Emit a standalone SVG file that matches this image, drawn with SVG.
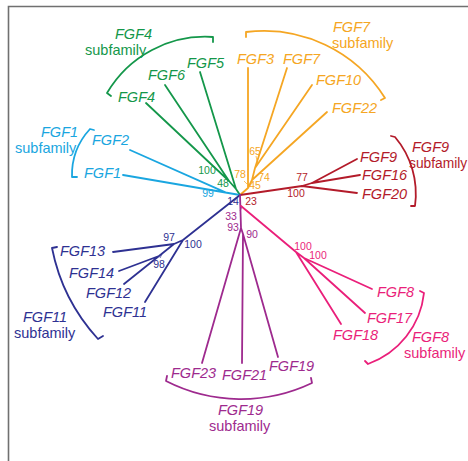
<svg xmlns="http://www.w3.org/2000/svg" width="468" height="461" viewBox="0 0 468 461">
<style>
.g{font-family:"Liberation Sans",Arial,sans-serif;font-style:italic;font-size:14.5px}
.s{font-family:"Liberation Sans",Arial,sans-serif;font-size:14.5px}
.b{font-family:"Liberation Sans",Arial,sans-serif;font-size:10.5px;text-anchor:middle}
.ln{fill:none;stroke-width:1.8;stroke-linecap:round;stroke-linejoin:round}
.tk{fill:none;stroke-width:0.7}
.green{fill:#14974a}.lgreen{stroke:#14974a}
.orange{fill:#f5a623}.lorange{stroke:#f5a623}
.red{fill:#b31b2a}.lred{stroke:#b31b2a}
.blue{fill:#1aa6e0}.lblue{stroke:#1aa6e0}
.navy{fill:#2e3192}.lnavy{stroke:#2e3192}
.purple{fill:#9e2a8e}.lpurple{stroke:#9e2a8e}
.mag{fill:#ea1f7a}.lmag{stroke:#ea1f7a}
</style>
<rect width="468" height="461" fill="#ffffff"/>
<path d="M8.5,461 V6.5 H468" fill="none" stroke="#707070" stroke-width="1.6"/>

<g id="connectors">
  <path class="ln lgreen" d="M146,103 L229,181 M165,85 L229,181 L236,189 M200,72 L236,189 L240,195"/>
  <path class="ln lorange" d="M248,68 V188 M287,68 L255,168 M312,85 L255,168 L252,180 M327,112 L252,180 L248,188 L240,195"/>
  <path class="ln lred" d="M240,195 L302,186 L357,193 M302,186 L312,183 L357,159 M312,183 L360,175"/>
  <path class="ln lblue" d="M123,175 L240,195 M130,150 L226,192.6"/>
  <path class="ln lnavy" d="M240,195 L183,240 L145,302 M183,240 L174,244 L113,252 M174,244 L159,256 L119,271 M159,256 L124,284"/>
  <path class="ln lpurple" d="M240,195 L241,228 L202,363 M241,228 L243,234 L242,363 M243,234 L278,357"/>
  <path class="ln lmag" d="M241,206 L296,252 L341,324 M296,252 L304,258 L372,289 M304,258 L365,313"/>
  <path class="tk lorange" d="M256,156 L257,161 M244,181 L247,184"/>
  <path class="tk lpurple" d="M240,211 L242,207"/>
  <path class="tk lnavy" d="M160,258 L162,254"/>
</g>

<g id="brackets">
  <path class="ln lgreen" d="M111,96 L107,93 A114,114 0 0 1 213,37 L213,42"/>
  <path class="ln lorange" d="M246,37 L246,32 A143,143 0 0 1 385,98 L381,100"/>
  <path class="ln lred" d="M391,136 L395,137 A88,88 0 0 1 415,206 L411,206"/>
  <path class="ln lmag" d="M420,291 L424,293 A85,85 0 0 1 368,364 L365,361"/>
  <path class="ln lpurple" d="M311,378 L312,383 A165,165 0 0 1 166,381 L167,376"/>
  <path class="ln lnavy" d="M103,336 L98,339 A189,189 0 0 1 52,248 L57,247"/>
  <path class="ln lblue" d="M77,177 L72,177 A68,68 0 0 1 90,129 L94,130"/>
</g>

<g id="fgf4-subfamily" class="green">
  <text class="g" x="115" y="39">FGF4</text>
  <text class="s" x="85" y="55">subfamily</text>
  <text class="g" x="187" y="68">FGF5</text>
  <text class="g" x="148" y="80">FGF6</text>
  <text class="g" x="118" y="102">FGF4</text>
  <text class="b" x="207" y="174">100</text>
  <text class="b" x="223" y="187">48</text>
</g>

<g id="fgf7-subfamily" class="orange">
  <text class="g" x="333" y="32">FGF7</text>
  <text class="s" x="332" y="48">subfamily</text>
  <text class="g" x="237" y="64">FGF3</text>
  <text class="g" x="283" y="64">FGF7</text>
  <text class="g" x="316" y="85">FGF10</text>
  <text class="g" x="332" y="113">FGF22</text>
  <text class="b" x="255" y="155">65</text>
  <text class="b" x="240" y="178">78</text>
  <text class="b" x="264" y="181">74</text>
  <text class="b" x="255" y="189">45</text>
</g>

<g id="fgf9-subfamily" class="red">
  <text class="g" x="412" y="152">FGF9</text>
  <text class="s" x="409" y="168" style="font-size:13.8px">subfamily</text>
  <text class="g" x="360" y="162">FGF9</text>
  <text class="g" x="362" y="180">FGF16</text>
  <text class="g" x="362" y="199">FGF20</text>
  <text class="b" x="302" y="181">77</text>
  <text class="b" x="296" y="197">100</text>
  <text class="b" x="251" y="205">23</text>
</g>

<g id="fgf1-subfamily" class="blue">
  <text class="g" x="41" y="137">FGF1</text>
  <text class="s" x="15" y="153">subfamily</text>
  <text class="g" x="92" y="145">FGF2</text>
  <text class="g" x="84" y="178">FGF1</text>
  <text class="b" x="208" y="197">99</text>
</g>

<g id="fgf11-subfamily" class="navy">
  <text class="g" x="23" y="322">FGF11</text>
  <text class="s" x="14" y="338">subfamily</text>
  <text class="g" x="60" y="256">FGF13</text>
  <text class="g" x="69" y="278">FGF14</text>
  <text class="g" x="86" y="298">FGF12</text>
  <text class="g" x="103" y="317">FGF11</text>
  <text class="b" x="233" y="205">14</text>
  <text class="b" x="169" y="241">97</text>
  <text class="b" x="193" y="248">100</text>
  <text class="b" x="159" y="268">98</text>
</g>

<g id="fgf19-subfamily" class="purple">
  <text class="g" x="218" y="415">FGF19</text>
  <text class="s" x="209" y="431">subfamily</text>
  <text class="g" x="171" y="378">FGF23</text>
  <text class="g" x="222" y="380">FGF21</text>
  <text class="g" x="269" y="371">FGF19</text>
  <text class="b" x="231" y="220">33</text>
  <text class="b" x="233" y="231">93</text>
  <text class="b" x="252" y="238">90</text>
</g>

<g id="fgf8-subfamily" class="mag">
  <text class="g" x="412" y="342">FGF8</text>
  <text class="s" x="404" y="358">subfamily</text>
  <text class="g" x="377" y="297">FGF8</text>
  <text class="g" x="367" y="323">FGF17</text>
  <text class="g" x="333" y="340">FGF18</text>
  <text class="b" x="303" y="250">100</text>
  <text class="b" x="318" y="259">100</text>
</g>
</svg>
